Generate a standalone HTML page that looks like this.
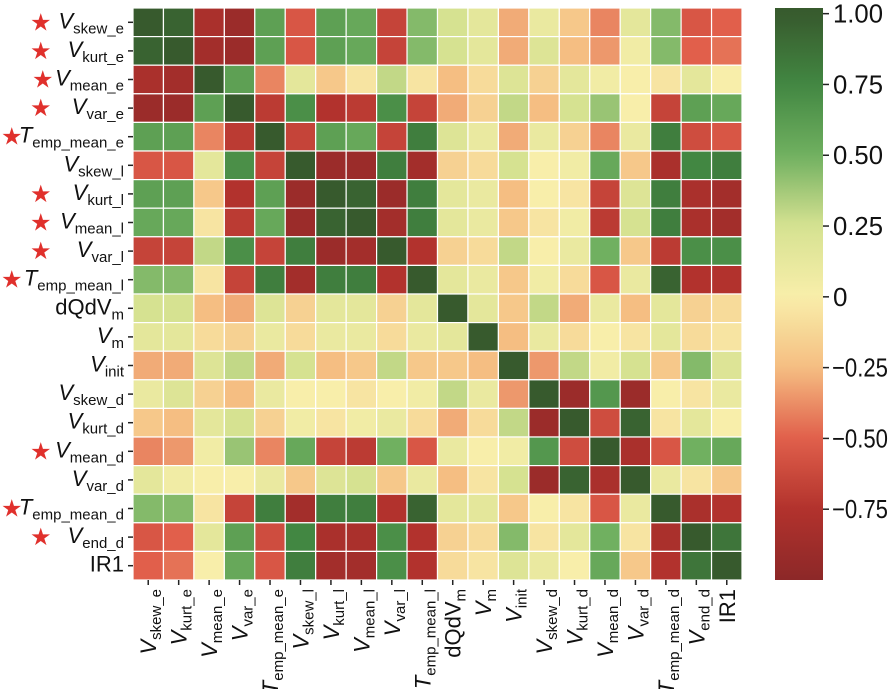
<!DOCTYPE html>
<html><head><meta charset="utf-8">
<style>
html,body{margin:0;padding:0;background:#fff;}
svg{display:block;font-family:"Liberation Sans",sans-serif;}
</style></head>
<body>
<svg id="chart" width="891" height="689"></svg>
<script>
const labels=[["V","skew_e",1],["V","kurt_e",1],["V","mean_e",1],["V","var_e",1],["T","emp_mean_e",1],["V","skew_l",0],["V","kurt_l",1],["V","mean_l",1],["V","var_l",1],["T","emp_mean_l",1],["dQdV","m",0],["V","m",0],["V","init",0],["V","skew_d",0],["V","kurt_d",0],["V","mean_d",1],["V","var_d",0],["T","emp_mean_d",1],["V","end_d",1],["IR","1",0]];
const corr=[
[1,.95,-.8,-.9,.6,-.55,.6,.55,-.65,.45,.25,.15,-.3,.1,-.2,-.4,.15,.45,-.55,-.5],
[.95,1,-.85,-.9,.6,-.55,.6,.55,-.65,.45,.25,.15,-.3,.2,-.25,-.35,.05,.45,-.5,-.45],
[-.8,-.85,1,.6,-.4,.15,-.2,-.05,.3,-.05,-.25,-.1,.2,-.15,.15,.05,0,-.05,.15,0],
[-.9,-.9,.6,1,-.7,.7,-.75,-.7,.7,-.65,-.3,-.15,.3,-.25,.25,.4,0,-.65,.6,.55],
[.6,.6,-.4,-.7,1,-.65,.6,.55,-.65,.8,.2,.1,-.3,.1,-.15,-.4,.1,.8,-.6,-.55],
[-.55,-.55,.15,.7,-.65,1,-.9,-.9,.8,-.85,-.15,-.1,.25,0,.05,.55,-.2,-.8,.75,.8],
[.6,.6,-.2,-.75,.6,-.9,1,.95,-.9,.8,.15,.1,-.25,0,-.05,-.65,.2,.8,-.8,-.85],
[.55,.55,-.05,-.7,.55,-.9,.95,1,-.85,.8,.15,.1,-.2,-.05,.05,-.7,.25,.8,-.8,-.85],
[-.65,-.65,.3,.7,-.65,.8,-.9,-.85,1,-.75,-.15,-.1,.3,0,.1,.5,-.2,-.7,.7,.7],
[.45,.45,-.05,-.65,.8,-.85,.8,.8,-.75,1,.15,.1,-.2,.05,-.1,-.55,.1,.95,-.75,-.75],
[.25,.25,-.25,-.3,.2,-.15,.15,.15,-.15,.15,1,.15,-.2,.3,-.3,.1,-.25,.15,-.15,-.1],
[.15,.15,-.1,-.15,.1,-.1,.1,.1,-.1,.1,.15,1,-.25,.1,-.1,0,-.05,.15,-.1,-.05],
[-.3,-.3,.2,.3,-.3,.25,-.25,-.2,.3,-.2,-.2,-.25,1,-.35,.3,.05,.25,-.2,.45,.2],
[.1,.2,-.15,-.25,.1,0,0,-.05,0,.05,.3,.1,-.35,1,-.9,.65,-.9,0,-.05,.1],
[-.2,-.25,.15,.25,-.15,.05,-.05,.05,.1,-.1,-.3,-.1,.3,-.9,1,-.6,.95,-.05,.15,0],
[-.4,-.35,.05,.4,-.4,.55,-.65,-.7,.5,-.55,.1,0,.05,.65,-.6,1,-.8,-.55,.5,.55],
[.15,.05,0,0,.1,-.2,.2,.25,-.2,.1,-.25,-.05,.25,-.9,.95,-.8,1,.1,-.05,-.2],
[.45,.45,-.05,-.65,.8,-.85,.8,.8,-.75,.95,.15,.15,-.2,0,-.05,-.55,.1,1,-.8,-.75],
[-.55,-.5,.15,.6,-.6,.75,-.8,-.8,.7,-.75,-.15,-.1,.45,-.05,.15,.5,-.05,-.8,1,.85],
[-.5,-.45,0,.55,-.55,.8,-.85,-.85,.7,-.75,-.1,-.05,.2,.1,0,.55,-.2,-.75,.85,1]];
const cbTicks=[1,0.75,0.5,0.25,0,-0.25,-0.5,-0.75];
const cbTickLabels=["1.00","0.75","0.50","0.25","0","\u22120.25","\u22120.50","\u22120.75"];

const NS="http://www.w3.org/2000/svg";
const svg=document.getElementById('chart');
const gx0=133,gx1=742,gy0=8,gy1=580,n=labels.length;
const cw=(gx1-gx0)/n,ch=(gy1-gy0)/n;
const vmin=-1,vmax=1.02;
const stops=[[-1,[140,40,40]],[-0.75,[178,50,45]],[-0.5,[225,95,75]],[-0.25,[245,190,130]],[0,[248,238,170]],[0.25,[214,226,145]],[0.5,[112,176,96]],[0.75,[66,135,66]],[1,[55,90,45]]];
function color(v){v=Math.max(-1,Math.min(1,v));for(let i=0;i<stops.length-1;i++){const a=stops[i],b=stops[i+1];if(v<=b[0]){const t=(v-a[0])/(b[0]-a[0]);const c=a[1].map((x,k)=>Math.round(x+(b[1][k]-x)*t));return `rgb(${c})`;}}return 'rgb(55,90,45)';}
function el(t,a){const e=document.createElementNS(NS,t);for(const k in a)e.setAttribute(k,a[k]);return e;}
const xs=i=>gx0+i*cw, ys=j=>gy0+j*ch;
for(let r=0;r<n;r++)for(let c=0;c<n;c++){
 const e=el('rect',{x:xs(c),y:ys(r),width:cw,height:ch,fill:color(corr[r][c]),stroke:'#fff','stroke-width':1.2});
 
 
 svg.appendChild(e);}
function label(parent,l,attrs){const t=el('text',attrs);const m=el('tspan',{});m.textContent=l[0];if(l[0]==='V'||l[0]==='T')m.setAttribute('font-style','italic');
 t.appendChild(m);const s=el('tspan',{'font-size':l[0]==='IR'?22:15,dy:l[0]==='IR'?0:5});s.textContent=l[1];t.appendChild(s);parent.appendChild(t);return t;}
for(let i=0;i<n;i++){
 const y=ys(i)+ch/2;
 svg.appendChild(el('line',{x1:gx0-5,x2:gx0,y1:y,y2:y,stroke:'#222','stroke-width':1.5}));
 const t=label(svg,labels[i],{x:124,y:y+6,'font-size':22,'text-anchor':'end',fill:'#111'});
 
 
 if(labels[i][2]){const s=el('text',{x:labels[i][0]==='T'?1:(labels[i][1]==='mean_e'?32:30),y:y+8,'font-size':24,fill:'#e0302c'});s.textContent='\u2605';
  
  
  svg.appendChild(s);}
 const x=xs(i)+cw/2;
 svg.appendChild(el('line',{x1:x,x2:x,y1:gy1,y2:gy1+5,stroke:'#222','stroke-width':1.5}));
 const tx=label(svg,labels[i],{x:0,y:0,'font-size':22,'text-anchor':'end',fill:'#111',transform:`translate(${x+8},${gy1+9}) rotate(-90)`});
 
 
}
const cbx=775,cbw=48;
const defs=el('defs',{});const lg=el('linearGradient',{id:'cbg',x1:0,y1:1,x2:0,y2:0});
for(let k=0;k<=40;k++){const v=vmin+(vmax-vmin)*k/40;lg.appendChild(el('stop',{offset:k/40,'stop-color':color(v)}));}
defs.appendChild(lg);svg.appendChild(defs);
const cb=el('rect',{x:cbx,y:gy0,width:cbw,height:gy1-gy0,fill:'url(#cbg)'});


svg.appendChild(cb);
const cy=v=>gy0+(vmax-v)/(vmax-vmin)*(gy1-gy0);
cbTicks.forEach((v,i)=>{const y=cy(v);
 svg.appendChild(el('line',{x1:cbx+cbw,x2:cbx+cbw+6,y1:y,y2:y,stroke:'#222','stroke-width':1.5}));
 const a={x:v<0?832:cbx+cbw+10,y:y+9,'font-size':26,fill:'#111'};
 if(v<0){a.textLength=56;a.lengthAdjust='spacingAndGlyphs';}
 else if(v!==0){a.textLength=50;a.lengthAdjust='spacingAndGlyphs';}
 const t=el('text',a);t.textContent=cbTickLabels[i];
 
 
 svg.appendChild(t);});
</script>
</body></html>
